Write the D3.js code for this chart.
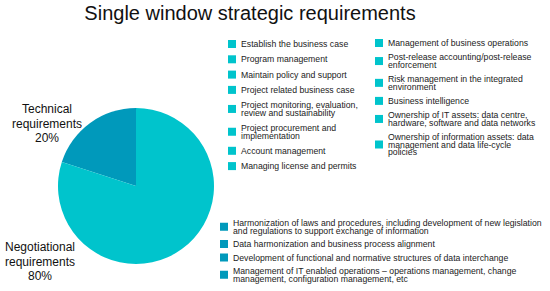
<!DOCTYPE html>
<html>
<head>
<meta charset="utf-8">
<script src="https://cdn.jsdelivr.net/npm/d3@7"></script>
<style>
  body { margin: 0; background: #fff; }
  svg { display: block; font-family: "Liberation Sans", Arial, sans-serif; }
</style>
</head>
<body>
<div id="chart"></div>
<script>
// pie data
var sliceNames = ["Technical requirements", "Negotiational requirements"];
var sliceValues = [20, 80];
var sliceLabels = [["Technical", "requirements", "20%"], ["Negotiational", "requirements", "80%"]];

// legend groups (lines of each entry)
var technicalItemsA = [
    ["Establish the business case"],
    ["Program management"],
    ["Maintain policy and support"],
    ["Project related business case"],
    ["Project monitoring, evaluation,", "review and sustainability"],
    ["Project procurement and", "implementation"],
    ["Account management"],
    ["Managing license and permits"]
];
var technicalItemsB = [
    ["Management of business operations"],
    ["Post-release accounting/post-release", "enforcement"],
    ["Risk management in the integrated", "environment"],
    ["Business intelligence"],
    ["Ownership of IT assets: data centre,", "hardware, software and data networks"],
    ["Ownership of information assets: data", "management and data life-cycle", "policies"]
];
var negotiationItems = [
    ["Harmonization of laws and procedures, including development of new legislation", "and regulations to support exchange of information"],
    ["Data harmonization and business process alignment"],
    ["Development of functional and normative structures of data interchange"],
    ["Management of IT enabled operations \u2013 operations management, change", "management, configuration management, etc"]
];

var width = 550, height = 291;
var colors = {"Technical requirements": "#0099bb", "Negotiational requirements": "#00c4cc"};

var svg = d3.select("#chart").append("svg")
    .attr("width", width)
    .attr("height", height);

svg.append("text")
    .attr("x", 250).attr("y", 20)
    .attr("text-anchor", "middle")
    .style("font-size", "20px")
    .style("fill", "#111")
    .text("Single window strategic requirements");

// ##### PIE #####
var cx = 136, cy = 186, r = 78;
var pie = d3.pie().sort(null)
    .startAngle(-2 * Math.PI * 0.2)
    .endAngle(2 * Math.PI * 0.8)
    .value(function(d) { return d; });
var arc = d3.arc().innerRadius(0).outerRadius(r);
var arcs = pie(sliceValues);

svg.append("g").attr("transform", "translate(" + cx + "," + cy + ")")
    .selectAll("path").data(arcs).enter().append("path")
    .attr("d", arc)
    .attr("fill", function(d, i) { return colors[sliceNames[i]]; });

var labelPos = [[47, 109], [40, 247]];
sliceLabels.forEach(function(lines, i) {
    var t = svg.append("text")
        .attr("text-anchor", "middle")
        .style("font-size", "12px")
        .style("fill", "#111");
    lines.forEach(function(line, j) {
        t.append("tspan")
            .attr("x", labelPos[i][0])
            .attr("y", labelPos[i][1] + j * 14.5)
            .attr("dy", "0.35em")
            .text(line);
    });
});

// ##### LEGEND #####
function drawLegend(items, x, y0, step, lineH, color) {
    var g = svg.append("g");
    var y = y0;
    items.forEach(function(lines) {
        var mid = y + (lines.length - 1) * lineH / 2;
        g.append("rect")
            .attr("x", x).attr("y", mid - 4)
            .attr("width", 8).attr("height", 8)
            .attr("fill", color);
        var t = g.append("text")
            .style("font-size", "8.7px")
            .style("fill", "#222");
        lines.forEach(function(line, j) {
            t.append("tspan")
                .attr("x", x + 13)
                .attr("y", y + j * lineH)
                .attr("dy", "0.35em")
                .text(line);
        });
        y += (lines.length - 1) * lineH + step;
    });
}

drawLegend(technicalItemsA, 228, 44, 15.3, 7.5, colors["Negotiational requirements"]);
drawLegend(technicalItemsB, 375, 43, 14.3, 7.5, colors["Negotiational requirements"]);
drawLegend(negotiationItems, 220, 223, 13.5, 7.5, colors["Technical requirements"]);
</script>
</body>
</html>
